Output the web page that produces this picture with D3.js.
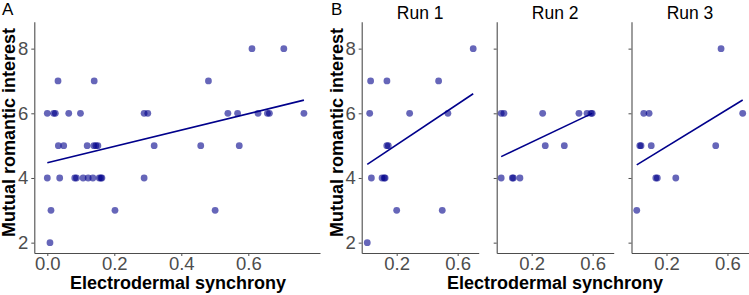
<!DOCTYPE html>
<html>
<head>
<meta charset="utf-8">
<script src="https://cdn.jsdelivr.net/npm/d3@7"></script>
<style>
  body { margin: 0; background: #fff; }
  svg { font-family: "Liberation Sans", Arial, sans-serif; }
</style>
</head>
<body>
<svg id="chart" width="749" height="295"></svg>
<script>
// panel A : all runs pooled
var synchA    = [0.611, 0.706,
                 0.032, 0.140, 0.481,
                 0.000, 0.019, 0.024, 0.064, 0.099, 0.289, 0.300, 0.539, 0.568, 0.629, 0.657, 0.663, 0.766,
                 0.033, 0.049, 0.119, 0.139, 0.145, 0.151, 0.319, 0.458, 0.573,
                 0.000, 0.037, 0.082, 0.087, 0.107, 0.122, 0.136, 0.155, 0.160, 0.163, 0.289,
                 0.011, 0.202, 0.501,
                 0.008];
var interestA = [8, 8,
                 7, 7, 7,
                 6, 6, 6, 6, 6, 6, 6, 6, 6, 6, 6, 6, 6,
                 5, 5, 5, 5, 5, 5, 5, 5, 5,
                 4, 4, 4, 4, 4, 4, 4, 4, 4, 4, 4,
                 3, 3, 3,
                 2];

// panel B : per run
var runs = ["Run 1", "Run 2", "Run 3"];
var synchRun1    = [0.702, 0.029, 0.136, 0.475, 0.023, 0.285, 0.536, 0.135, 0.145, 0.034, 0.104, 0.118, 0.124, 0.200, 0.499, 0.007];
var interestRun1 = [8, 7, 7, 7, 6, 6, 6, 5, 5, 4, 4, 4, 4, 3, 3, 2];
var synchRun2    = [0.000, 0.018, 0.272, 0.510, 0.563, 0.589, 0.597, 0.289, 0.414, 0.000, 0.073, 0.080, 0.123];
var interestRun2 = [6, 6, 6, 6, 6, 6, 6, 5, 5, 4, 4, 4, 4];
var synchRun3    = [0.558, 0.051, 0.086, 0.700, 0.025, 0.033, 0.100, 0.523, 0.130, 0.140, 0.261, 0.005];
var interestRun3 = [8, 6, 6, 6, 5, 5, 5, 5, 4, 4, 4, 3];

// fitted lines [intercept, slope]
var fitA    = [4.47, 2.53];
var fitRun1 = [4.40, 3.14];
var fitRun2 = [4.66, 2.24];
var fitRun3 = [4.39, 2.89];

var yTicks  = [2, 4, 6, 8];
var xTicksA = [0, 0.2, 0.4, 0.6];
var xTicksB = [0.2, 0.6];

var svg = d3.select("#chart");
var pointCol = "#00008b";
var axisCol = "#4d4d4d";
var plotTop = 21.8, plotBottom = 253;

var y = d3.scaleLinear().domain([1.68, 8.83]).range([plotBottom, plotTop]);

function styleAxis(a) {
  a.attr("font-size", 18.5).attr("font-family", "Liberation Sans, Arial, sans-serif");
  a.select(".domain").attr("stroke", axisCol).attr("stroke-width", 1.1);
  a.selectAll(".tick line").attr("stroke", axisCol);
  a.selectAll(".tick text").attr("fill", axisCol);
}

function panel(g, x, xs, ys, fit, xTicks, yLabels) {
  g.append("g")
    .attr("transform", "translate(0," + plotBottom + ")")
    .call(d3.axisBottom(x).tickValues(xTicks).tickSizeInner(3).tickSizeOuter(0).tickPadding(1).tickFormat(d3.format(".1f")))
    .call(styleAxis);

  var left = x.range()[0];
  g.append("g")
    .attr("transform", "translate(" + left + ",0)")
    .call(d3.axisLeft(y).tickValues(yTicks).tickSizeInner(3).tickSizeOuter(0).tickPadding(3).tickFormat(yLabels ? d3.format("d") : ""))
    .call(styleAxis);

  g.append("g").selectAll("circle").data(xs)
    .enter().append("circle")
    .attr("cx", function(d) { return x(d); })
    .attr("cy", function(d, i) { return y(ys[i]); })
    .attr("r", 3.4)
    .attr("fill", pointCol)
    .attr("fill-opacity", 0.6);

  var x0 = d3.min(xs), x1 = d3.max(xs);
  g.append("line")
    .attr("x1", x(x0)).attr("y1", y(fit[0] + fit[1] * x0))
    .attr("x2", x(x1)).attr("y2", y(fit[0] + fit[1] * x1))
    .attr("stroke", pointCol)
    .attr("stroke-width", 1.6);
}

function yTitle(xpos) {
  svg.append("text")
    .attr("transform", "translate(" + xpos + "," + ((plotTop + plotBottom) / 2 - 5) + ") rotate(-90)")
    .attr("text-anchor", "middle")
    .attr("font-size", 18)
    .attr("font-weight", "bold")
    .text("Mutual romantic interest");
}

function xTitle(xpos) {
  svg.append("text")
    .attr("x", xpos).attr("y", 289)
    .attr("text-anchor", "middle")
    .attr("font-size", 18)
    .attr("font-weight", "bold")
    .text("Electrodermal synchrony");
}

// ---- panel A
var xA = d3.scaleLinear().domain([-0.0388, 0.814]).range([34.3, 320]);
panel(svg.append("g"), xA, synchA, interestA, fitA, xTicksA, true);
yTitle(15);
xTitle(178);
svg.append("text").attr("x", 2).attr("y", 15).attr("font-size", 17).text("A");

// ---- panel B
var facetLeft = [361.7, 496.7, 631.5];
var facetW = 117;
var runX = [synchRun1, synchRun2, synchRun3];
var runY = [interestRun1, interestRun2, interestRun3];
var runFit = [fitRun1, fitRun2, fitRun3];

for (var r = 0; r < runs.length; r++) {
  var xB = d3.scaleLinear().domain([-0.0295, 0.738]).range([facetLeft[r], facetLeft[r] + facetW]);
  panel(svg.append("g"), xB, runX[r], runY[r], runFit[r], xTicksB, r == 0);
  svg.append("text")
    .attr("x", facetLeft[r] + facetW / 2).attr("y", 19)
    .attr("text-anchor", "middle")
    .attr("font-size", 17.5)
    .text(runs[r]);
}
yTitle(343);
xTitle(555);
svg.append("text").attr("x", 331).attr("y", 15).attr("font-size", 17).text("B");
</script>
</body>
</html>
